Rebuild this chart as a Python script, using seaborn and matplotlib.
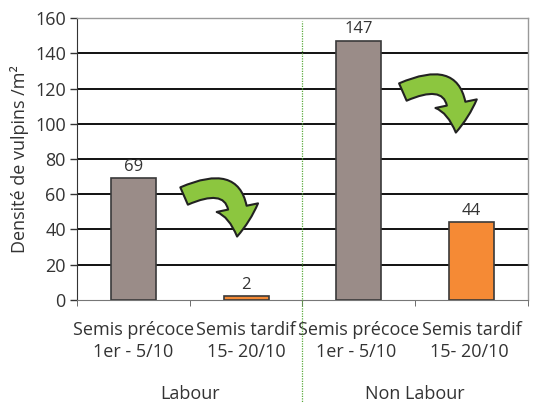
import matplotlib
matplotlib.use('Agg')
import matplotlib.pyplot as plt
import seaborn as sns
import numpy as np
import pandas as pd
from matplotlib.patches import FancyArrowPatch

cats = ['Semis précoce\n1er - 5/10', 'Semis tardif\n15- 20/10',
        'Semis précoce\n1er - 5/10 ', 'Semis tardif\n15- 20/10 ']
vals = [69, 2, 147, 44]
groups = ['Labour', 'Non Labour']
cols = ['#9a8c88', '#f58a35', '#9a8c88', '#f58a35']

sns.set_style('white')
plt.rcParams['font.family'] = ['Open Sans', 'DejaVu Sans']
txt_c = '#333333'

df = pd.DataFrame({'cat': cats, 'val': vals})

fig = plt.figure(figsize=(5.44, 4.03), dpi=100)
ax = fig.add_axes([0.1415, 0.2556, 0.8291, 0.6997])

sns.barplot(data=df, x='cat', y='val', hue='cat', palette=cols, width=0.4, saturation=1,
            edgecolor='#3a3a3a', linewidth=1.2, legend=False, ax=ax, zorder=3)

ax.set_ylim(0, 160)
ax.set_xlim(-0.5, 3.5)
ax.set_yticks(range(0, 161, 20))
for y in range(20, 160, 20):
    ax.axhline(y, color='#111111', lw=1.4, zorder=1)

ax.tick_params(axis='y', labelsize=13, colors=txt_c, length=5, width=1, left=True, pad=3)
ax.tick_params(axis='x', labelsize=13, colors=txt_c, length=0, pad=15)
ax.set_xticks(range(4))
ax.set_xticklabels(cats, linespacing=1.3)
ax.set_xticks(np.arange(-0.5, 4, 1), minor=True)
ax.tick_params(axis='x', which='minor', length=4, color='#555555', bottom=True)
ax.set_xlabel('')
ax.set_ylabel('Densité de vulpins /m²', fontsize=13, color=txt_c, labelpad=4)

for s in ['top', 'right']:
    ax.spines[s].set_color('#999999')
    ax.spines[s].set_linewidth(1)
ax.spines['bottom'].set_color('#777777')
ax.spines['left'].set_color('#333333')

for i, v in enumerate(vals):
    ax.text(i, v + 2, str(v), ha='center', va='bottom', fontsize=12, color=txt_c)

# separator between groups
ax.plot([1.5, 1.5], [0.005, 0.99], transform=ax.get_xaxis_transform(), clip_on=False,
        color='#5aaa3c', ls=(0, (1, 1)), lw=0.9, zorder=4)
ax.plot([1.5, 1.5], [-0.37, 0], transform=ax.get_xaxis_transform(), clip_on=False,
        color='#5aaa3c', ls=(0, (1, 1)), lw=0.9, zorder=4)

# group labels
for k, g in enumerate(groups):
    ax.text(0.5 + 2 * k, -0.335, g, transform=ax.get_xaxis_transform(), ha='center',
            va='center', fontsize=13, color=txt_c)

# curved arrows (annotation positions)
arrows = [((0.45, 59), (0.92, 36)), ((2.39, 118), (2.86, 95))]
for p0, p1 in arrows:
    a = FancyArrowPatch(p0, p1, connectionstyle='arc3,rad=-0.9',
                        arrowstyle='simple,head_width=1.9,head_length=1.3,tail_width=0.85',
                        mutation_scale=16, shrinkA=0, shrinkB=0,
                        facecolor='#8cc63f', edgecolor='#222222', lw=1.5, zorder=5)
    ax.add_patch(a)

plt.savefig('out.png', dpi=100)
plt.close()
